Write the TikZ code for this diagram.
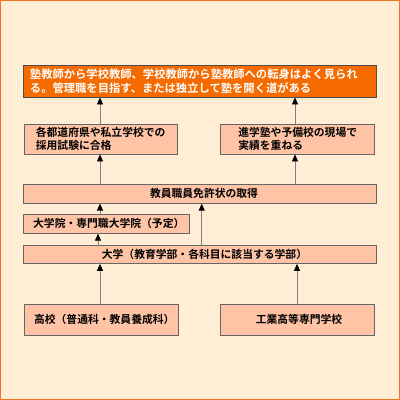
\documentclass[tikz,border=0pt]{standalone}
\usepackage{fontspec}
\newfontfamily\jp{Noto Sans CJK JP}[BoldFont={Noto Sans CJK JP Bold}]
\usetikzlibrary{arrows.meta}
\definecolor{fondo}{HTML}{FFEED5}
\definecolor{borde}{HTML}{F47220}
\definecolor{naranja}{HTML}{F56B00}
\definecolor{salmon}{HTML}{FFC3A6}
\tikzset{
  caja/.style={rectangle, draw=black!60, line width=0.8bp, fill=salmon, inner sep=0pt,
    font=\jp\bfseries\fontsize{10.8bp}{13bp}\selectfont, align=left},
  flecha/.style={draw=black!50, line width=0.8bp, -{Triangle[length=7bp,width=6bp,color=black]}}
}
\begin{document}
\begin{tikzpicture}[x=1bp, y=-1bp]
		% fondo con borde naranja
		\useasboundingbox (0, 0) rectangle (400, 400);
		\draw[fill=fondo, draw=borde, line width=2.5bp] (0, 0) rectangle (400, 400);

		% caja superior
		\node[caja, fill=naranja, draw=black!70, text=white, minimum width=353bp, minimum height=32bp, text width=339bp,
			font=\jp\bfseries\fontsize{11.3bp}{13.5bp}\selectfont] (meta) at (199.5, 81)
			{塾教師から学校教師、学校教師から塾教師への転身はよく見られ\\る。管理職を目指す、または独立して塾を開く道がある};

		% caminos
		\node[caja, minimum width=153bp, minimum height=30bp] (saiyo) at (100.7, 139) {各都道府県や私立学校での\\採用試験に合格};
		\node[caja, minimum width=154bp, minimum height=30bp] (jisseki) at (297.7, 139) {進学塾や予備校の現場で\\実績を重ねる};

		% licencia
		\node[caja, minimum width=353bp, minimum height=19bp] (menkyo) at (199.5, 193.7) {\hspace{9bp}教員職員免許状の取得};

		% posgrado y universidad
		\node[caja, minimum width=166bp, minimum height=19bp] (daigakuin) at (106.3, 223.8) {\hspace{5bp}大学院・専門職大学院（予定）};
		\node[caja, minimum width=353bp, minimum height=18.5bp] (daigaku) at (199.5, 254.2) {\hspace{10bp}大学（教育学部・各科目に該当する学部）};

		% escuelas
		\node[caja, minimum width=154bp, minimum height=31bp] (koko) at (101.3, 319.7) {\hspace{6bp}高校（普通科・教員養成科）};
		\node[caja, minimum width=154bp, minimum height=31bp] (kosen) at (297.5, 319.7) {\hspace{3bp}工業高等専門学校};

		% flechas
		\draw[flecha] (saiyo.north -| 100, 0) -- (meta.south -| 100, 0);
		\draw[flecha] (jisseki.north -| 295, 0) -- (meta.south -| 295, 0);
		\draw[flecha] (menkyo.north -| 100, 0) -- (saiyo.south -| 100, 0);
		\draw[flecha] (menkyo.north -| 295, 0) -- (jisseki.south -| 295, 0);
		\draw[flecha] (daigakuin.north -| 100, 0) -- (menkyo.south -| 100, 0);
		\draw[flecha] (daigaku.north -| 201.7, 0) -- (menkyo.south -| 201.7, 0);
		\draw[flecha] (daigaku.north -| 98, 0) -- (daigakuin.south -| 98, 0);
		\draw[flecha] (koko.north -| 100, 0) -- (daigaku.south -| 100, 0);
		\draw[flecha] (kosen.north -| 297, 0) -- (daigaku.south -| 297, 0);
	\end{tikzpicture}
\end{document}
